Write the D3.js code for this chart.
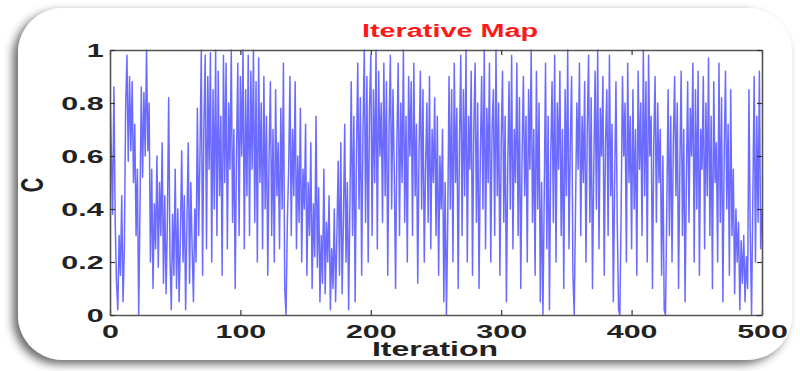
<!DOCTYPE html>
<html>
<head>
<meta charset="utf-8">
<script src="https://cdn.jsdelivr.net/npm/d3@7/dist/d3.min.js"></script>
<style>
  html, body { margin: 0; padding: 0; background: #ffffff; }
  svg { display: block; }
</style>
</head>
<body>
<svg id="chart" width="800" height="371"></svg>
<script>
// ---- data ----
const chartTitle = "Iterative Map";
const xLabel = "Iteration";
const yLabel = "C";
const xTicks = [0, 100, 200, 300, 400, 500];
const xTickLabels = ["0", "100", "200", "300", "400", "500"];
const yTicks = [0, 0.2, 0.4, 0.6, 0.8, 1];
const yTickLabels = ["0", "0.2", "0.4", "0.6", "0.8", "1"];
const cValues = [
  0.85, 0.62, 0.38, 0.86, 0.35, 0.12, 0.02, 0.30, 0.15, 0.45,
  0.05, 0.25, 0.78, 0.98, 0.58, 0.90, 0.62, 0.88, 0.50, 0.72,
  0.30, 0.55, 0.00, 0.40, 0.86, 0.52, 0.84, 0.60, 1.00, 0.62,
  0.80, 0.20, 0.55, 0.10, 0.42, 0.25, 0.60, 0.18, 0.50, 0.30,
  0.65, 0.12, 0.45, 0.08, 0.35, 0.82, 0.22, 0.02, 0.38, 0.15,
  0.55, 0.10, 0.40, 0.05, 0.30, 0.62, 0.20, 0.45, 0.02, 0.35,
  0.65, 0.12, 0.50, 0.25, 0.05, 0.40, 0.20, 0.78, 0.30, 0.60,
  1.00, 0.15, 0.72, 0.98, 0.25, 0.90, 0.55, 0.99, 0.20, 0.85,
  0.40, 1.00, 0.30, 0.92, 0.45, 0.75, 0.15, 0.98, 0.50, 0.95,
  0.25, 0.80, 0.55, 1.00, 0.35, 0.70, 0.10, 0.60, 0.95, 0.30,
  0.90, 0.60, 1.00, 0.25, 0.85, 0.45, 0.98, 0.30, 0.92, 0.55,
  1.00, 0.35, 0.88, 0.20, 0.97, 0.50, 0.80, 0.25, 0.90, 0.40,
  0.75, 0.15, 0.60, 0.88, 0.30, 0.70, 0.20, 0.85, 0.45, 0.65,
  0.25, 0.78, 0.40, 0.95, 0.10, 0.00, 0.35, 0.55, 0.90, 0.30,
  0.70, 0.45, 0.88, 0.25, 0.60, 0.35, 0.78, 0.20, 0.55, 0.40,
  0.72, 0.15, 0.50, 0.30, 0.65, 0.10, 0.42, 0.22, 0.75, 0.18,
  0.48, 0.05, 0.30, 0.12, 0.55, 0.08, 0.35, 0.20, 0.45, 0.02,
  0.25, 0.10, 0.40, 0.05, 0.30, 0.58, 0.15, 0.65, 0.08, 0.35,
  0.72, 0.20, 0.50, 0.02, 0.42, 0.88, 0.30, 0.75, 0.05, 0.60,
  0.95, 0.40, 0.82, 0.15, 0.70, 1.00, 0.35, 0.90, 0.20, 0.78,
  0.98, 0.30, 0.85, 0.50, 1.00, 0.25, 0.92, 0.60, 0.80, 0.35,
  0.95, 0.45, 0.88, 0.15, 0.70, 0.98, 0.40, 0.85, 0.55, 0.10,
  0.65, 0.95, 0.30, 0.80, 0.50, 1.00, 0.35, 0.75, 0.20, 0.90,
  0.60, 0.88, 0.30, 0.95, 0.45, 0.72, 0.12, 0.62, 0.92, 0.40,
  0.85, 0.20, 0.55, 0.80, 0.35, 0.90, 0.25, 0.70, 0.50, 0.82,
  0.30, 0.75, 0.15, 0.60, 0.40, 0.70, 0.05, 0.50, 0.00, 0.35,
  0.90, 0.40, 0.85, 0.20, 0.95, 0.50, 0.78, 0.10, 0.65, 0.98,
  0.30, 0.85, 0.45, 1.00, 0.20, 0.75, 0.55, 0.92, 0.15, 0.70,
  0.95, 0.35, 0.80, 0.10, 0.60, 0.90, 0.40, 1.00, 0.25, 0.78,
  0.50, 0.95, 0.20, 0.70, 0.85, 0.30, 1.00, 0.45, 0.80, 0.15,
  0.65, 0.92, 0.35, 0.75, 0.05, 0.55, 0.88, 0.40, 0.98, 0.25,
  0.70, 0.50, 0.95, 0.30, 0.82, 0.10, 0.60, 0.90, 0.45, 0.75,
  0.20, 0.85, 0.55, 1.00, 0.35, 0.70, 0.15, 0.92, 0.40, 0.80,
  0.05, 0.50, 0.00, 0.45, 0.95, 0.25, 0.75, 0.02, 0.60, 0.88,
  0.35, 0.98, 0.20, 0.80, 0.55, 0.92, 0.30, 0.70, 0.10, 0.85,
  0.45, 1.00, 0.25, 0.65, 0.90, 0.15, 0.00, 0.40, 0.80, 0.55,
  0.95, 0.30, 0.75, 0.50, 0.88, 0.20, 0.70, 0.98, 0.35, 0.82,
  0.10, 0.55, 0.92, 0.40, 1.00, 0.25, 0.78, 0.60, 0.90, 0.15,
  0.65, 0.85, 0.30, 0.98, 0.45, 0.72, 0.05, 0.50, 0.88, 0.35,
  0.02, 0.00, 0.40, 0.90, 0.60, 0.80, 0.20, 0.95, 0.50, 0.75,
  0.25, 0.85, 0.40, 0.70, 0.15, 0.92, 0.55, 0.80, 0.30, 1.00,
  0.45, 0.88, 0.20, 0.98, 0.60, 0.75, 0.10, 0.65, 0.90, 0.35,
  0.80, 0.50, 0.70, 0.15, 0.60, 0.02, 0.00, 0.40, 0.85, 0.30,
  0.75, 0.20, 0.65, 0.90, 0.45, 0.80, 0.10, 0.55, 0.92, 0.30,
  0.70, 0.05, 0.50, 0.88, 0.35, 0.78, 0.60, 0.95, 0.20, 0.85,
  0.40, 0.92, 0.15, 0.70, 0.55, 0.90, 0.25, 0.80, 0.45, 0.97,
  0.30, 0.75, 0.10, 0.88, 0.50, 0.65, 0.20, 0.95, 0.35, 0.82,
  0.05, 0.60, 0.92, 0.40, 0.72, 0.15, 0.85, 0.30, 0.55, 0.08,
  0.40, 0.20, 0.35, 0.02, 0.28, 0.12, 0.30, 0.05, 0.22, 0.10,
  0.85, 0.30, 0.00, 0.45, 0.90, 0.20, 0.75, 0.35, 0.92, 0.25,
  0.40
];

// ---- layout ----
const svg = d3.select("#chart");
const plot = { left: 110, right: 762, top: 50, bottom: 315 };
const stretch = 1.6; // the reference text is horizontally stretched

const x = d3.scaleLinear().domain([0, 500]).range([plot.left, plot.right]);
const y = d3.scaleLinear().domain([0, 1]).range([plot.bottom, plot.top]);

// card with shadow
const defs = svg.append("defs");
const f = defs.append("filter").attr("id", "shadow")
  .attr("x", "-10%").attr("y", "-10%").attr("width", "120%").attr("height", "130%");
f.append("feDropShadow").attr("dx", -5).attr("dy", 4).attr("stdDeviation", 5)
  .attr("flood-color", "#000").attr("flood-opacity", 0.6);

svg.append("rect")
  .attr("x", 18).attr("y", 8).attr("width", 774).attr("height", 352)
  .attr("rx", 45).attr("ry", 45)
  .attr("fill", "#ffffff")
  .attr("filter", "url(#shadow)");

// data line
const line = d3.line()
  .x((d, i) => x(i))
  .y(d => y(d));

const clip = defs.append("clipPath").attr("id", "plotclip");
clip.append("rect").attr("x", plot.left).attr("y", plot.top - 1)
  .attr("width", plot.right - plot.left).attr("height", plot.bottom - plot.top + 2);

svg.append("path")
  .datum(cValues)
  .attr("clip-path", "url(#plotclip)")
  .attr("fill", "none")
  .attr("stroke", "#0000ff")
  .attr("stroke-opacity", 0.58)
  .attr("stroke-width", 1.5)
  .attr("stroke-linejoin", "round")
  .attr("d", line);

// axes (MATLAB style box with inner ticks)
const axColor = "#555";
const gB = svg.append("g").attr("transform", `translate(0,${plot.bottom})`)
  .call(d3.axisBottom(x).tickValues(xTicks).tickFormat((d, i) => xTickLabels[i])
    .tickSizeInner(-5).tickSizeOuter(0).tickPadding(10));
const gT = svg.append("g").attr("transform", `translate(0,${plot.top})`)
  .call(d3.axisTop(x).tickValues(xTicks).tickFormat("").tickSizeInner(-5).tickSizeOuter(0));
const gL = svg.append("g").attr("transform", `translate(${plot.left},0)`)
  .call(d3.axisLeft(y).tickValues(yTicks).tickFormat((d, i) => yTickLabels[i])
    .tickSizeInner(-5).tickSizeOuter(0).tickPadding(6));
const gR = svg.append("g").attr("transform", `translate(${plot.right},0)`)
  .call(d3.axisRight(y).tickValues(yTicks).tickFormat("").tickSizeInner(-5).tickSizeOuter(0));

[gB, gT, gL, gR].forEach(g => {
  g.select(".domain").attr("stroke", axColor).attr("stroke-width", 1.6);
  g.selectAll(".tick line").attr("stroke", "#333").attr("stroke-width", 1.2);
});

gB.selectAll(".tick text")
  .attr("font-family", "Liberation Sans, Arial, sans-serif")
  .attr("font-weight", "bold")
  .attr("font-size", 19)
  .attr("fill", "#222")
  .attr("transform", `scale(${stretch},1)`);
gL.selectAll(".tick text")
  .attr("font-family", "Liberation Sans, Arial, sans-serif")
  .attr("font-weight", "bold")
  .attr("font-size", 19)
  .attr("fill", "#222")
  .attr("x", -4)
  .attr("transform", `scale(${stretch},1)`);

// title
svg.append("text")
  .attr("transform", `translate(450,37) scale(${stretch},1)`)
  .attr("text-anchor", "middle")
  .attr("font-family", "Liberation Sans, Arial, sans-serif")
  .attr("font-weight", "bold")
  .attr("font-size", 18)
  .attr("fill", "#ff1a1a")
  .text(chartTitle);

// x label
svg.append("text")
  .attr("transform", `translate(435,356) scale(${stretch},1)`)
  .attr("text-anchor", "middle")
  .attr("font-family", "Liberation Sans, Arial, sans-serif")
  .attr("font-weight", "bold")
  .attr("font-size", 20)
  .attr("fill", "#222")
  .text(xLabel);

// y label
svg.append("text")
  .attr("transform", `translate(43,185) scale(${stretch},1) rotate(-90)`)
  .attr("text-anchor", "middle")
  .attr("font-family", "Liberation Sans, Arial, sans-serif")
  .attr("font-weight", "bold")
  .attr("font-size", 20)
  .attr("fill", "#222")
  .text(yLabel);
</script>
</body>
</html>
